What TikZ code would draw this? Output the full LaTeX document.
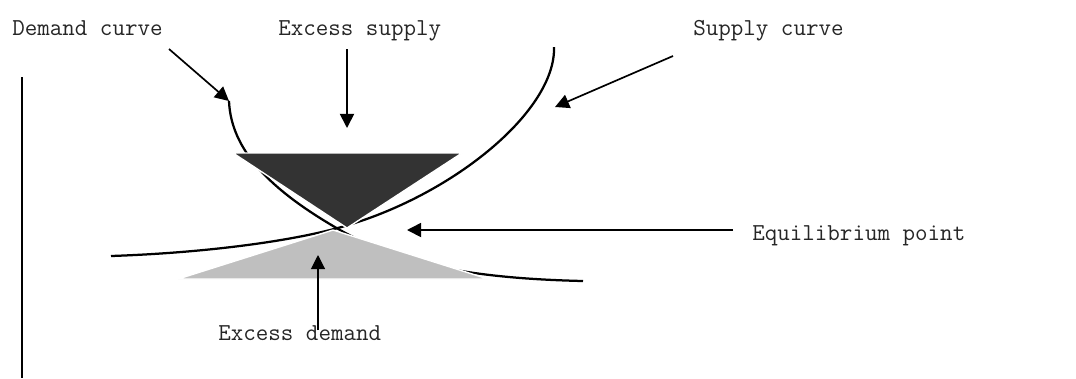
\documentclass[tikz,border=0pt]{standalone}
\usetikzlibrary{arrows.meta}
\begin{document}
\begin{tikzpicture}[x=0.025cm,y=-0.025cm,
  lbl/.style={anchor=base west,inner sep=0pt,font=\ttfamily\fontsize{17.3}{20}\selectfont,text=black!85},
  ptr/.style={line width=1.2pt,-{Triangle[length=10pt,width=10pt]}},
  crv/.style={line width=1.6pt},
  tri/.style={draw=white,line width=1pt}]
  \useasboundingbox (0,0) rectangle (1076,378);

  \node[lbl] (demandlbl) at (12,35) {Demand curve};
  \node[lbl] (exsuplbl) at (278,35) {Excess supply};
  \node[lbl] (supplylbl) at (693,35) {Supply curve};
  \node[lbl] (equilbl) at (752,240) {Equilibrium point};
  \node[lbl] (exdemlbl) at (218,340) {Excess demand};

  \coordinate (axtop) at (22,77);
  \coordinate (axbot) at (22,378);
  \draw[line width=1.2pt] (axtop) -- (axbot);

  % curves first, triangles on top
  \coordinate (dtop) at (229,101);
  \coordinate (dmid) at (340,230);
  \coordinate (dend) at (583,281);
  \draw[crv] (dtop) .. controls (231,150) and (270,190) .. (dmid)
    .. controls (390,258) and (450,278) .. (dend);
  \coordinate (stop) at (554,47);
  \coordinate (smid) at (345,226);
  \coordinate (send) at (111,256);
  \draw[crv] (stop) .. controls (556,110) and (455,194) .. (smid)
    .. controls (290,242) and (200,253) .. (send);

  \filldraw[tri,fill=black!80] (233,153) -- (462,153) -- (347,228) -- cycle;
  \filldraw[tri,fill=black!25] (333,230) -- (178,279) -- (488,279) -- cycle;

  \coordinate (dtail) at (169,49);
  \coordinate (estail) at (347,49);
  \coordinate (estip) at (347,128);
  \coordinate (stail) at (673,56);
  \coordinate (stip) at (555,107);
  \coordinate (eqtail) at (733,230);
  \coordinate (eqtip) at (407,230);
  \coordinate (edtail) at (318,330);
  \coordinate (edtip) at (318,255);
  \draw[ptr] (dtail) -- (dtop);
  \draw[ptr] (estail) -- (estip);
  \draw[ptr] (stail) -- (stip);
  \draw[ptr] (eqtail) -- (eqtip);
  \draw[ptr,line width=.8pt] (edtail) -- (edtip);
\end{tikzpicture}
\end{document}
